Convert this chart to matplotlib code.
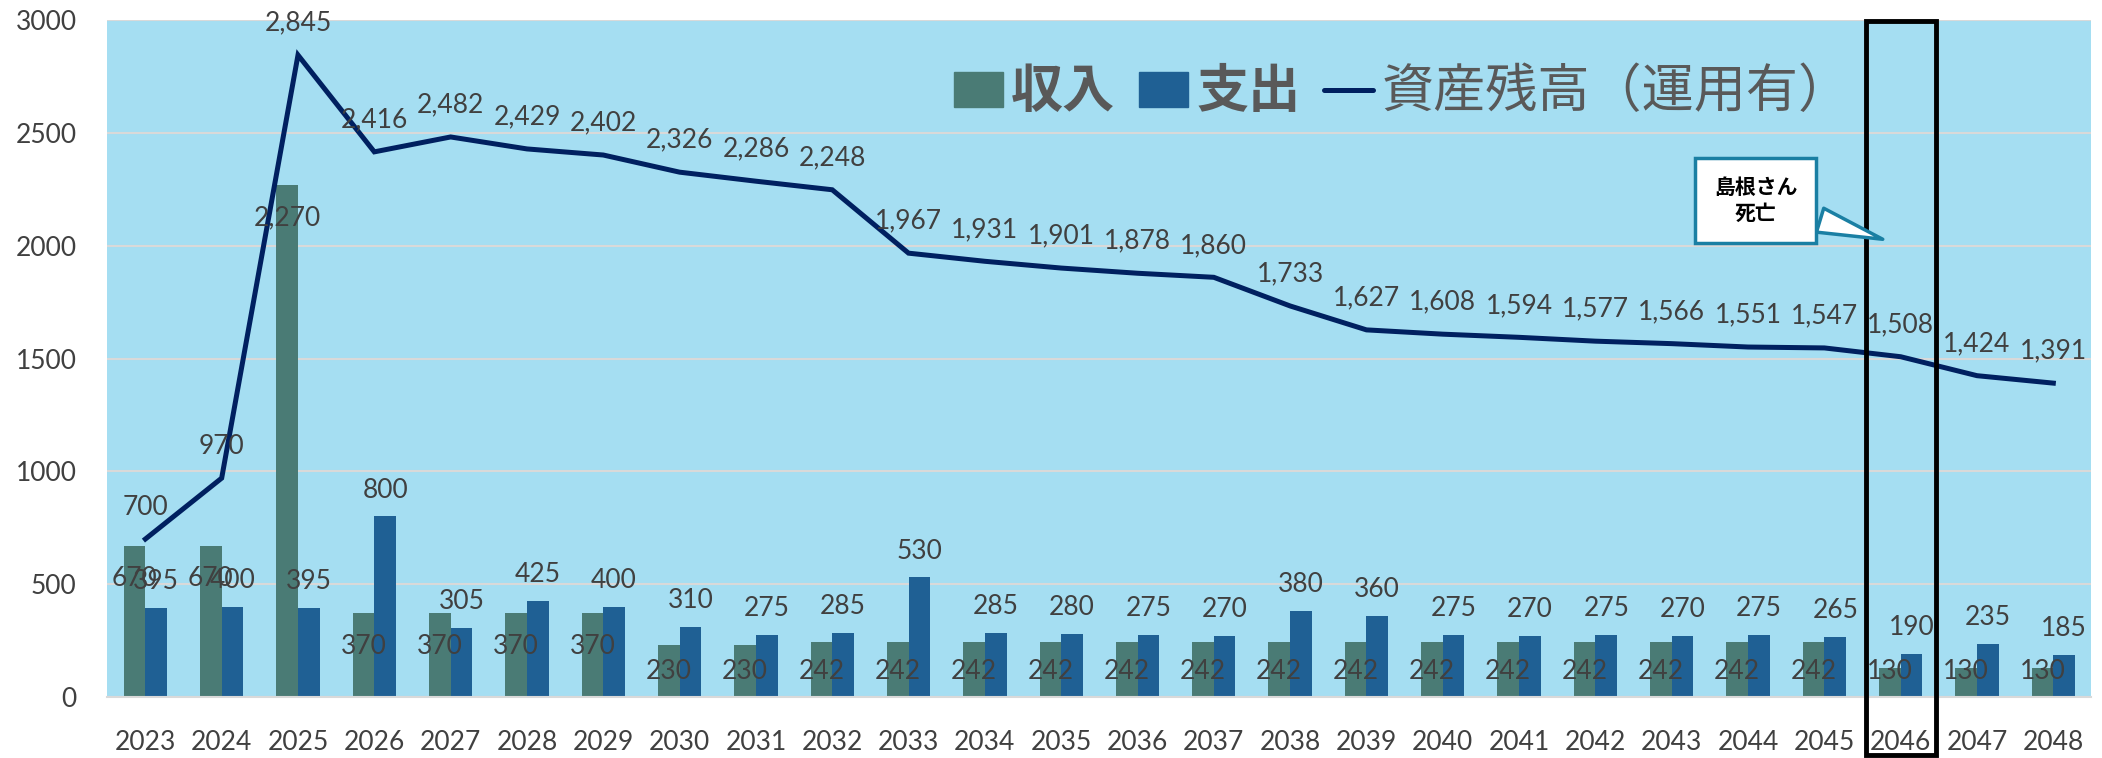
import numpy as np
import matplotlib.pyplot as plt
from matplotlib.patches import Rectangle, Patch
from matplotlib.lines import Line2D

plt.rcParams['font.family'] = ['Lato', 'Noto Sans CJK JP', 'DejaVu Sans']

years = [str(y) for y in range(2023, 2049)]
income = [670, 670, 2270, 370, 370, 370, 370, 230, 230, 242, 242, 242, 242,
          242, 242, 242, 242, 242, 242, 242, 242, 242, 242, 130, 130, 130]
expense = [395, 400, 395, 800, 305, 425, 400, 310, 275, 285, 530, 285, 280,
           275, 270, 380, 360, 275, 270, 275, 270, 275, 265, 190, 235, 185]
assets = [700, 970, 2845, 2416, 2482, 2429, 2402, 2326, 2286, 2248, 1967, 1931, 1901,
          1878, 1860, 1733, 1627, 1608, 1594, 1577, 1566, 1551, 1547, 1508, 1424, 1391]
death_year = '2046'
legend_labels = ['収入', '支出', '資産残高（運用有）']

c_inc = '#4A7B75'
c_exp = '#1F6094'
c_line = '#002060'
c_txt = '#404040'

fig = plt.figure(figsize=(21.02, 7.58), dpi=100)
ax = fig.add_axes([0.051, 0.0805, 0.944, 0.893])
ax.set_facecolor('#A5DEF2')

x = np.arange(len(years))
w = 0.284
ax.bar(x - w / 2, income, w, color=c_inc, zorder=2)
ax.bar(x + w / 2, expense, w, color=c_exp, zorder=2)
ax.plot(x, assets, color=c_line, lw=3.6, zorder=3, solid_joinstyle='miter')

# data labels
fs = 19
for i in range(len(years)):
    ax.text(x[i] - w / 2, max(income[i] - 146, 112), f'{income[i]:,}', ha='center', va='center',
            fontsize=fs, color=c_txt, zorder=5)
    ax.annotate(f'{expense[i]:,}', (x[i] + w / 2, expense[i]), xytext=(0, 19),
                textcoords='offset points', ha='center', va='center', fontsize=fs, color=c_txt, zorder=5)
    ax.annotate(f'{assets[i]:,}', (x[i], assets[i]), xytext=(0, 23),
                textcoords='offset points', ha='center', va='center', fontsize=fs, color=c_txt, zorder=5)

ax.set_xlim(-0.5, len(years) - 0.5)
ax.set_ylim(0, 3000)
ax.set_yticks(np.arange(0, 3001, 500))
ax.set_xticks(x)
ax.set_xticklabels(years)
ax.grid(axis='y', color='#D9D9D9', lw=1.5, zorder=1)
ax.set_axisbelow(True)
for s in ['top', 'right', 'left']:
    ax.spines[s].set_visible(False)
ax.spines['bottom'].set_color('#D9D9D9')
ax.spines['bottom'].set_linewidth(1.5)
ax.tick_params(axis='both', length=0, labelsize=fs, labelcolor=c_txt)
ax.tick_params(axis='y', pad=22)
ax.tick_params(axis='x', pad=24)

# legend
handles = [Patch(color=c_inc), Patch(color=c_exp),
           Line2D([], [], color=c_line, lw=3.6, solid_capstyle='round')]
leg = ax.legend(handles, legend_labels, loc='center', bbox_to_anchor=(0.667, 0.878),
                bbox_transform=fig.transFigure, ncol=3, frameon=False,
                handlelength=0.95, handleheight=0.65, handletextpad=0.15, columnspacing=0.45,
                prop={'family': ['Noto Sans CJK JP'], 'size': 37.5})
for t in leg.get_texts():
    t.set_color('#595959')
leg.get_texts()[0].set_fontweight('bold')
leg.get_texts()[1].set_fontweight('bold')

# death year highlight
k = years.index(death_year)
ax.add_patch(Rectangle((k - 0.46, -0.086), 0.92, 1.085, transform=ax.get_xaxis_transform(),
                       fill=False, ec='black', lw=3.5, clip_on=False, zorder=6))
ax.annotate('島根さん\n死亡', xy=(k - 0.2, 2025), xytext=(k - 1.9, 2200),
            ha='center', va='center', fontsize=15, fontweight='bold', color='black',
            family=['Noto Sans CJK JP'], zorder=7, linespacing=1.3,
            bbox=dict(boxstyle='square,pad=0.9', fc='white', ec='#1A7FA3', lw=2.5),
            arrowprops=dict(arrowstyle='wedge,tail_width=1.2', fc='white', ec='#1A7FA3', lw=2.5))

fig.savefig('out.png', dpi=100)
